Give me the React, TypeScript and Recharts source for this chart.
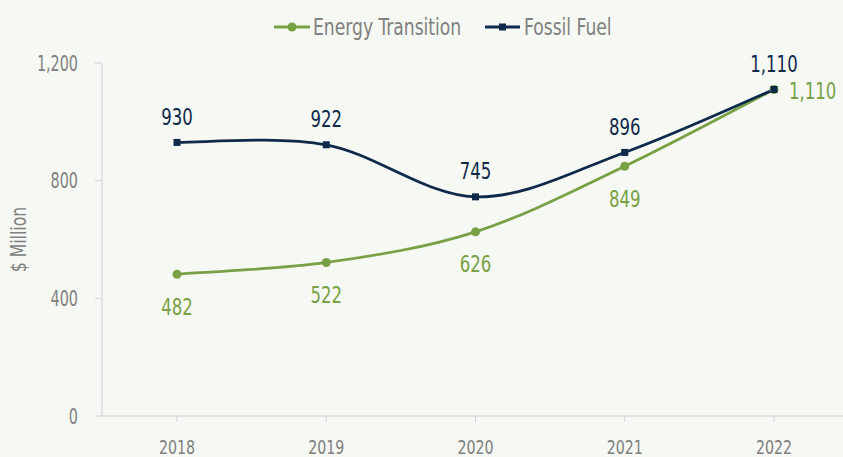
import { LineChart, Line, XAxis, YAxis, LabelList } from 'recharts';

const years = ['2018', '2019', '2020', '2021', '2022'];
const energyTransition = [482, 522, 626, 849, 1110];
const fossilFuel = [930, 922, 745, 896, 1110];
const yTicks = [0, 400, 800, 1200];

const data = years.map((year, i) => ({
	year,
	energy: energyTransition[i],
	fossil: fossilFuel[i],
}));

const GREEN = '#78a145';
const NAVY = '#0f294b';
const GRAY = '#808080';
const AXIS = '#d2d2d2';
const BG = '#f6f8f3';
const FONT = '"DejaVu Sans Condensed", "DejaVu Sans", sans-serif';
const SQUEEZE = 0.83;

// excel-style smoothed line (catmull-rom)
const smooth = (context: any) => {
	let pts: number[][] = [];
	return {
		areaStart() {},
		areaEnd() {},
		lineStart() {
			pts = [];
		},
		lineEnd() {
			if (!pts.length) return;
			context.moveTo(pts[0][0], pts[0][1]);
			for (let i = 0; i < pts.length - 1; i++) {
				const p0 = pts[i - 1] || pts[i];
				const p1 = pts[i];
				const p2 = pts[i + 1];
				const p3 = pts[i + 2] || p2;
				context.bezierCurveTo(
					p1[0] + (p2[0] - p0[0]) / 6,
					p1[1] + (p2[1] - p0[1]) / 6,
					p2[0] - (p3[0] - p1[0]) / 6,
					p2[1] - (p3[1] - p1[1]) / 6,
					p2[0],
					p2[1],
				);
			}
		},
		point(x: number, y: number) {
			pts.push([+x, +y]);
		},
	};
};

const fmt = (v: number) => v.toLocaleString('en-US');

// condensed look: squeeze text horizontally around its anchor
function NarrowText({ x, y, size, fill, anchor = 'middle', squeeze = SQUEEZE, children }: any) {
	return (
		<text
			transform={`translate(${x} ${y}) scale(${squeeze} 1)`}
			x={0}
			y={0}
			textAnchor={anchor}
			fill={fill}
			fontSize={size}
			fontFamily={FONT}
		>
			{children}
		</text>
	);
}

const SquareDot = (props: any) => {
	const { cx, cy } = props;
	if (cx == null || cy == null) return null;
	return <rect x={cx - 3.5} y={cy - 3.5} width={7} height={7} fill={NAVY} />;
};

const RoundDot = (props: any) => {
	const { cx, cy } = props;
	if (cx == null || cy == null) return null;
	return <circle cx={cx} cy={cy} r={4.5} fill={GREEN} />;
};

const fossilLabel = (props: any) => {
	const { x, y, value } = props;
	return (
		<NarrowText x={x} y={y - 26 + 8.3} size={23} fill={NAVY} squeeze={0.8}>
			{fmt(value)}
		</NarrowText>
	);
};

const energyLabel = (props: any) => {
	const { x, y, value, index } = props;
	if (index === energyTransition.length - 1) {
		return (
			<NarrowText x={x + 15} y={y + 1 + 8.3} size={23} fill={GREEN} anchor="start" squeeze={0.8}>
				{fmt(value)}
			</NarrowText>
		);
	}
	return (
		<NarrowText x={x} y={y + 32 + 8.3} size={23} fill={GREEN} squeeze={0.8}>
			{fmt(value)}
		</NarrowText>
	);
};

const XTick = (props: any) => {
	const { x, y, payload } = props;
	return (
		<NarrowText x={x} y={y + 20 * 0.73} size={20} fill={GRAY} squeeze={0.79}>
			{payload.value}
		</NarrowText>
	);
};

const YTick = (props: any) => {
	const { x, y, payload } = props;
	return (
		<NarrowText x={x} y={y + 21 * 0.36} size={21} fill={GRAY} anchor="end" squeeze={0.76}>
			{fmt(payload.value)}
		</NarrowText>
	);
};

const yLabel = (props: any) => {
	const vb = props.viewBox || {};
	const cx = 19;
	const cy = (vb.y ?? 63) + (vb.height ?? 353) / 2;
	return (
		<text
			transform={`translate(${cx} ${cy}) rotate(-90) scale(${SQUEEZE} 1)`}
			x={0}
			y={0}
			textAnchor="middle"
			dominantBaseline="central"
			fill={GRAY}
			fontSize={21}
			fontFamily={FONT}
		>
			$ Million
		</text>
	);
};

function Legend() {
	return (
		<svg width={843} height={50} style={styles.legend}>
			<line x1={274} x2={310} y1={27} y2={27} stroke={GREEN} strokeWidth={3} />
			<circle cx={292} cy={27} r={4.5} fill={GREEN} />
			<NarrowText x={313} y={27 + 8.3} size={23} fill={GRAY} anchor="start">
				Energy Transition
			</NarrowText>
			<line x1={485} x2={520} y1={27} y2={27} stroke={NAVY} strokeWidth={3} />
			<rect x={499} y={23.5} width={7} height={7} fill={NAVY} />
			<NarrowText x={524} y={27 + 8.3} size={23} fill={GRAY} anchor="start">
				Fossil Fuel
			</NarrowText>
		</svg>
	);
}

export default function App() {
	return (
		<div style={styles.page}>
			<Legend />
			<LineChart width={855} height={457} data={data} margin={{ top: 63, right: 6, left: 0, bottom: 0 }}>
				<XAxis
					dataKey="year"
					height={41}
					padding={{ left: 75, right: 75 }}
					axisLine={{ stroke: AXIS }}
					tickLine={{ stroke: AXIS }}
					tickSize={6}
					tickMargin={17}
					tick={<XTick />}
				/>
				<YAxis
					width={102}
					domain={[0, 1200]}
					ticks={yTicks}
					axisLine={{ stroke: AXIS }}
					tickLine={{ stroke: AXIS }}
					tickSize={7}
					tickMargin={17}
					tick={<YTick />}
					label={yLabel}
				/>
				<Line
					dataKey="energy"
					type={smooth as any}
					stroke={GREEN}
					strokeWidth={2.75}
					dot={<RoundDot />}
					activeDot={false}
					isAnimationActive={false}
				>
					<LabelList dataKey="energy" content={energyLabel} />
				</Line>
				<Line
					dataKey="fossil"
					type={smooth as any}
					stroke={NAVY}
					strokeWidth={2.75}
					dot={<SquareDot />}
					activeDot={false}
					isAnimationActive={false}
				>
					<LabelList dataKey="fossil" content={fossilLabel} />
				</Line>
			</LineChart>
		</div>
	);
}

const styles: Record<string, React.CSSProperties> = {
	page: {
		position: 'absolute',
		left: 0,
		top: 0,
		width: 843,
		height: 457,
		overflow: 'hidden',
		background: BG,
	},
	legend: {
		position: 'absolute',
		left: 0,
		top: 0,
		zIndex: 1,
	},
};
